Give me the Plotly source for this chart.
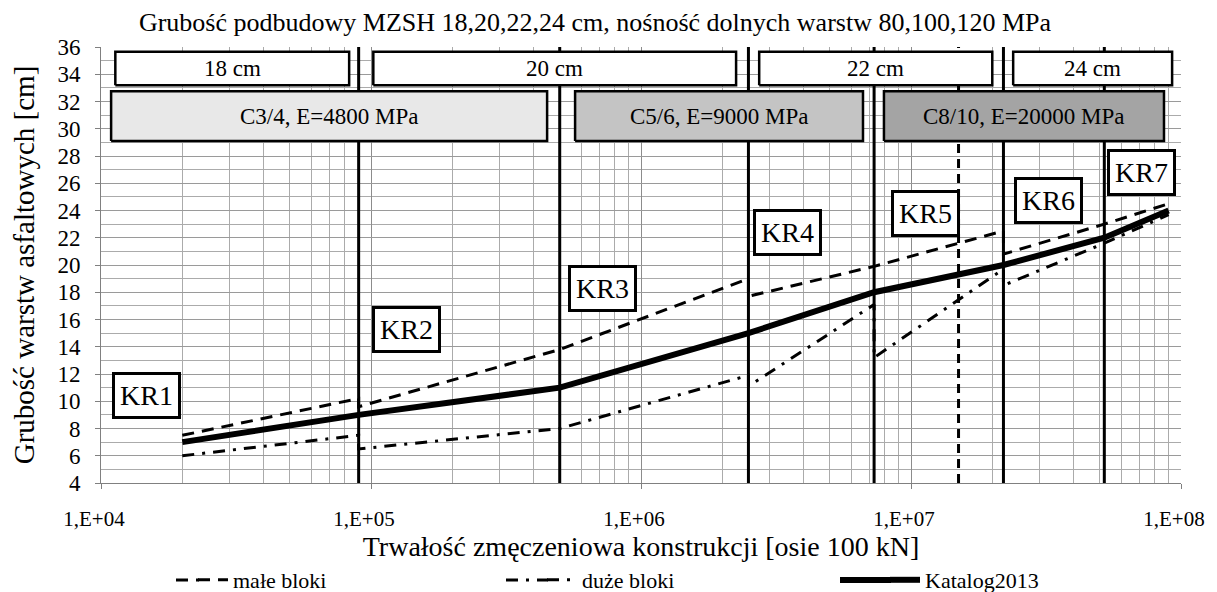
import math
import plotly.graph_objects as go

# ---------------- data ----------------
kr_limits = [9e4, 5e5, 2.5e6, 7.3e6, 2.2e7, 5.2e7]   # KR category boundaries
mzsh_limit = [1.5e7]                                   # dashed boundary

x_male = [2e4, 9e4, 9e4, 5e5, 2.5e6, 2.5e6, 7.3e6, 2.2e7, 2.2e7, 5.2e7, 9e7]
y_male = [7.5, 10.2, 9.6, 13.8, 19.0, 17.7, 19.9, 22.5, 20.8, 23.0, 24.5]

x_duze = [2e4, 9e4, 9e4, 5e5, 2.5e6, 2.5e6, 7.3e6, 7.3e6, 2.2e7, 2.2e7, 5.2e7, 9e7]
y_duze = [6.0, 7.5, 6.5, 8.0, 11.9, 11.1, 17.1, 13.2, 19.7, 18.5, 21.6, 23.7]

x_kat = [2e4, 9e4, 5e5, 2.5e6, 7.3e6, 2.2e7, 5.2e7, 9e7]
y_kat = [7, 9, 11, 15, 18, 20, 22, 24]

x_ticks = [1e4, 1e5, 1e6, 1e7, 1e8]
x_ticktext = ["1,E+04", "1,E+05", "1,E+06", "1,E+07", "1,E+08"]

kr_labels = ["KR1", "KR2", "KR3", "KR4", "KR5", "KR6", "KR7"]
thickness_labels = ["18 cm", "20 cm", "22 cm", "24 cm"]
material_labels = ["C3/4, E=4800 MPa", "C5/6, E=9000 MPa", "C8/10, E=20000 MPa"]

title = "Grubość podbudowy MZSH 18,20,22,24 cm, nośność dolnych warstw 80,100,120 MPa"
x_title = "Trwałość zmęczeniowa konstrukcji [osie 100 kN]"
y_title = "Grubość warstw asfaltowych [cm]"

# ---------------- layout helpers (positions / styles) ----------------
FONT = "Liberation Serif"
W, H = 1217, 620          # page body adds an 8 px offset; extra height keeps legend inside
L, R, T, B = 93, 44, 39, 145
PW = W - L - R            # plot width in px
PH = H - T - B            # plot height in px

thick_boxes = [  # x0, x1 (axis data), y0, y1
    (1.13e4, 8.3e4, 33.2, 35.65),
    (1.02e5, 2.25e6, 33.2, 35.65),
    (2.74e6, 2.0e7, 33.2, 35.65),
    (2.39e7, 9.27e7, 33.2, 35.65),
]
mat_boxes = [
    (1.09e4, 4.49e5, 29.1, 32.75, "#e8e8e8"),
    (5.7e5, 6.64e6, 29.1, 32.75, "#c4c4c4"),
    (7.94e6, 8.65e7, 29.1, 32.75, "#a4a4a4"),
]
kr_pos = [(4.170, 10.4), (5.130, 15.3), (5.859, 18.3), (6.544, 22.4),
          (7.052, 23.8), (7.511, 24.7), (7.852, 26.8)]  # log10(x), y

LEG_Y = -97 / PH
leg_left_px = [185, 534, 877]          # legend block left edges (px from figure left)
sample_left_px = [168, 498, 832]       # where the longer key line starts

fig = go.Figure()

for v in kr_limits:
    fig.add_trace(go.Scatter(x=[v, v], y=[4, 36], mode="lines",
                             line=dict(color="black", width=3),
                             showlegend=False, hoverinfo="skip"))
for v in mzsh_limit:
    fig.add_trace(go.Scatter(x=[v, v], y=[4, 36], mode="lines",
                             line=dict(color="black", width=3, dash="9px,6px"),
                             showlegend=False, hoverinfo="skip"))

annotations = []
for (x0, x1, y0, y1), txt in zip(thick_boxes, thickness_labels):
    fig.add_trace(go.Scatter(x=[x0, x1, x1, x0, x0], y=[y0, y0, y1, y1, y0],
                             mode="lines", fill="toself", fillcolor="white",
                             line=dict(color="black", width=2.5),
                             showlegend=False, hoverinfo="skip"))
    annotations.append(dict(x=(math.log10(x0) + math.log10(x1)) / 2, y=(y0 + y1) / 2,
                            xref="x", yref="y", text=txt, showarrow=False,
                            font=dict(family=FONT, size=23, color="black")))
for (x0, x1, y0, y1, col), txt in zip(mat_boxes, material_labels):
    fig.add_trace(go.Scatter(x=[x0, x1, x1, x0, x0], y=[y0, y0, y1, y1, y0],
                             mode="lines", fill="toself", fillcolor=col,
                             line=dict(color="black", width=2.5),
                             showlegend=False, hoverinfo="skip"))
    annotations.append(dict(x=(math.log10(x0) + math.log10(x1)) / 2, y=(y0 + y1) / 2,
                            xref="x", yref="y", text=txt, showarrow=False,
                            font=dict(family=FONT, size=23, color="black")))

for (lx, ly), txt in zip(kr_pos, kr_labels):
    annotations.append(dict(x=lx, y=ly, xref="x", yref="y", text=txt, showarrow=False,
                            font=dict(family=FONT, size=28, color="black"),
                            bgcolor="white", bordercolor="black", borderwidth=3,
                            borderpad=5))

styles = [dict(color="black", width=3, dash="12px,8px"),
          dict(color="black", width=3, dash="12px,8px,3px,8px"),
          dict(color="black", width=6)]

fig.add_trace(go.Scatter(x=x_male, y=y_male, mode="lines", name="małe bloki",
                         line=styles[0], legend="legend"))
fig.add_trace(go.Scatter(x=x_duze, y=y_duze, mode="lines", name="duże bloki",
                         line=styles[1], legend="legend2"))
fig.add_trace(go.Scatter(x=x_kat, y=y_kat, mode="lines", name="Katalog2013",
                         line=styles[2], legend="legend3"))

# longer legend keys (extension to the left of the native 30 px key)
shapes = []
for lp, sp, st in zip(leg_left_px, sample_left_px, styles):
    shapes.append(dict(type="line", xref="paper", yref="paper",
                       x0=(sp - L) / PW, x1=(lp + 6 - L) / PW, y0=LEG_Y, y1=LEG_Y,
                       line=dict(color=st["color"], width=st["width"],
                                 dash=st.get("dash", "solid"))))

leg_common = dict(orientation="h", yanchor="middle", xanchor="left", y=LEG_Y,
                  font=dict(family=FONT, size=22, color="black"),
                  bgcolor="rgba(0,0,0,0)", itemwidth=30)

fig.update_layout(
    width=W, height=H,
    margin=dict(l=L, r=R, t=T, b=B),
    paper_bgcolor="white", plot_bgcolor="white",
    font=dict(family=FONT, color="black"),
    title=dict(text=title, x=587 / W, xref="container", xanchor="center",
               y=1 - 14 / H, yref="container", yanchor="middle",
               font=dict(family=FONT, size=26, color="black")),
    legend=dict(x=(leg_left_px[0] - L) / PW, **leg_common),
    legend2=dict(x=(leg_left_px[1] - L) / PW, **leg_common),
    legend3=dict(x=(leg_left_px[2] - L) / PW, **leg_common),
    annotations=annotations,
    shapes=shapes,
    xaxis=dict(type="log", range=[4, 8], tickmode="array", tickvals=x_ticks,
               ticktext=x_ticktext, showgrid=True, gridcolor="#8c8c8c", gridwidth=1,
               minor=dict(tickmode="array",
                          tickvals=[k * 10 ** d for d in range(4, 8) for k in range(2, 10)],
                          showgrid=True, gridcolor="#ababab", gridwidth=1, ticks=""),
               ticks="outside", ticklen=5, tickcolor="#808080",
               showline=True, linecolor="#808080", linewidth=1,
               tickfont=dict(family=FONT, size=21, color="black"),
               ticklabelstandoff=12, ticklabelshift=-7,
               title=dict(text=x_title, font=dict(family=FONT, size=28, color="black"),
                          standoff=2),
               zeroline=False, automargin=False),
    yaxis=dict(range=[4, 36], tick0=4, dtick=2, showgrid=True, gridcolor="#9a9a9a",
               gridwidth=1,
               minor=dict(dtick=1, showgrid=True, gridcolor="#ababab", gridwidth=1, ticks=""),
               ticks="outside", ticklen=5, tickcolor="#808080",
               showline=True, linecolor="#808080", linewidth=1,
               tickfont=dict(family=FONT, size=23, color="black"),
               ticklabelstandoff=10,
               title=dict(text=y_title, font=dict(family=FONT, size=29, color="black"),
                          standoff=18),
               zeroline=False, automargin=False),
    showlegend=True,
)

fig.write_html("out.html")
